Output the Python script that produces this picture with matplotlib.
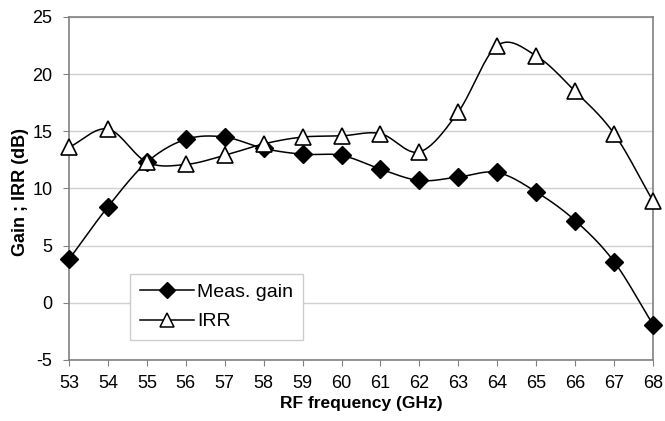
import numpy as np
import matplotlib.pyplot as plt

plt.rcParams['font.family'] = ['Liberation Sans', 'DejaVu Sans']
plt.rcParams['axes.unicode_minus'] = False

freq = [53, 54, 55, 56, 57, 58, 59, 60, 61, 62, 63, 64, 65, 66, 67, 68]
gain = [3.8, 8.4, 12.3, 14.3, 14.5, 13.5, 13.0, 12.9, 11.7, 10.7, 11.0, 11.4, 9.7, 7.2, 3.6, -1.9]
irr = [13.6, 15.2, 12.3, 12.1, 12.9, 13.9, 14.5, 14.6, 14.8, 13.2, 16.7, 22.5, 21.6, 18.5, 14.8, 8.9]


def smooth(x, y, n=20):
    """Catmull-Rom curve through the points, like Excel's smoothed line"""
    x = np.asarray(x, float)
    y = np.asarray(y, float)
    px = np.concatenate([[2 * x[0] - x[1]], x, [2 * x[-1] - x[-2]]])
    py = np.concatenate([[2 * y[0] - y[1]], y, [2 * y[-1] - y[-2]]])
    t = np.linspace(0, 1, n, endpoint=False)
    xs, ys = [], []
    for i in range(1, len(px) - 2):
        for p, out in ((px, xs), (py, ys)):
            p0, p1, p2, p3 = p[i - 1], p[i], p[i + 1], p[i + 2]
            out.extend(0.5 * (2 * p1 + (-p0 + p2) * t
                              + (2 * p0 - 5 * p1 + 4 * p2 - p3) * t ** 2
                              + (-p0 + 3 * p1 - 3 * p2 + p3) * t ** 3))
    xs.append(x[-1])
    ys.append(y[-1])
    return xs, ys


fig = plt.figure(figsize=(6.65, 4.21), dpi=100)
ax = fig.add_axes([69 / 665, 1 - 360 / 421, 584 / 665, 343 / 421])

sx, sy = smooth(freq, gain)
ax.plot(sx, sy, color='black', lw=1.1, zorder=3, clip_on=False)
sx, sy = smooth(freq, irr)
ax.plot(sx, sy, color='black', lw=1.1, zorder=3, clip_on=False)
ax.plot(freq, gain, 'D', color='black', ms=9.5, zorder=4, clip_on=False)
ax.plot(freq, irr, '^', mfc='white', mec='black', mew=1.2, ms=12, zorder=4, clip_on=False)

# legend entries
ax.plot([], [], '-D', color='black', ms=8, lw=1.1, label='Meas. gain')
ax.plot([], [], '-^', color='black', mfc='white', mew=1.1, ms=10, lw=1.1, label='IRR')
leg = ax.legend(loc='lower left', bbox_to_anchor=(0.105, 0.058), fontsize=14,
                fancybox=False, framealpha=1, edgecolor='#cccccc',
                handlelength=2.8, borderpad=0.5, labelspacing=0.6, handletextpad=0.15,
                borderaxespad=0)
leg.get_frame().set_linewidth(1.0)

ax.set_xlim(53, 68)
ax.set_ylim(-5, 25)
ax.set_xticks(freq)
ax.set_yticks(range(-5, 26, 5))
ax.grid(axis='y', color='#d0d0d0', lw=1.0)
ax.set_axisbelow(True)
for s in ax.spines.values():
    s.set_color('#808080')
    s.set_linewidth(1.2)
ax.tick_params(axis='both', labelsize=13, color='#808080', length=4)
ax.tick_params(axis='x', pad=7)
ax.tick_params(axis='y', pad=8)
ax.set_xlabel('RF frequency (GHz)', fontsize=12.5, fontweight='bold', labelpad=3)
ax.set_ylabel('Gain ; IRR (dB)', fontsize=13, fontweight='bold')
ax.yaxis.set_label_coords(-0.068, 0.49)

fig.savefig('out.png', dpi=100)
